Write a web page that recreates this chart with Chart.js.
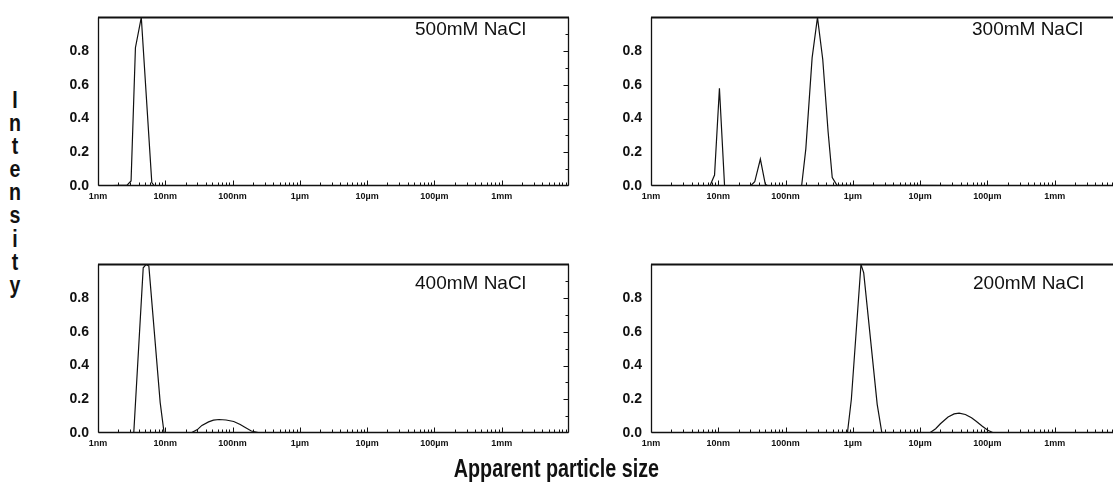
<!DOCTYPE html>
<html><head><meta charset="utf-8">
<script src="https://cdn.jsdelivr.net/npm/chart.js@4.4.1/dist/chart.umd.min.js"></script>
<style>
html,body{margin:0;padding:0;background:#fff;width:1113px;height:486px;overflow:hidden;position:relative}
canvas{position:absolute}
.lbl{position:absolute;font-family:"Liberation Sans",Arial,sans-serif;font-size:19px;color:#111;white-space:nowrap;line-height:1}
.ylab{position:absolute;left:2px;top:89px;width:26px;text-align:center;font-family:"Liberation Sans",Arial,sans-serif;font-weight:bold;font-size:23px;line-height:23.1px;color:#111;transform:scaleX(0.85)}
.xlab{position:absolute;left:0;width:1113px;top:456px;text-align:center;font-family:"Liberation Sans",Arial,sans-serif;font-weight:bold;font-size:25px;line-height:1;color:#111;transform:scaleX(0.79);transform-origin:556px 0}
</style></head><body>
<canvas id="c500" width="560" height="215" style="left:40px;top:0px"></canvas>
<canvas id="c300" width="530" height="215" style="left:600px;top:0px"></canvas>
<canvas id="c400" width="560" height="215" style="left:40px;top:247px"></canvas>
<canvas id="c200" width="530" height="215" style="left:600px;top:247px"></canvas>
<div class="lbl" style="left:415px;top:19px">500mM NaCl</div>
<div class="lbl" style="left:972px;top:19px">300mM NaCl</div>
<div class="lbl" style="left:415px;top:273px">400mM NaCl</div>
<div class="lbl" style="left:973px;top:273px">200mM NaCl</div>
<div class="ylab">I<br>n<br>t<br>e<br>n<br>s<br>i<br>t<br>y</div>
<div class="xlab">Apparent particle size</div>
<script>
// sizes in nm
const xTickValues = [1, 10, 100, 1000, 10000, 100000, 1000000];
const xTickLabels = ["1nm", "10nm", "100nm", "1\u00b5m", "10\u00b5m", "100\u00b5m", "1mm"];
const yTickValues = [0, 0.2, 0.4, 0.6, 0.8];

const size500 = [1, 2.7, 3.1, 3.6, 4.4, 6.3, 6.9, 1e7];
const int500  = [0, 0.005, 0.03, 0.82, 1.0, 0.02, 0, 0];

const size300 = [1, 7.5, 8.8, 10.4, 12.4, 30, 34.8, 42.2, 50, 55, 173, 200, 248, 298, 357, 429, 494, 578, 1e7];
const int300  = [0, 0, 0.065, 0.58, 0, 0, 0.025, 0.16, 0.01, 0, 0, 0.22, 0.76, 1.0, 0.75, 0.32, 0.05, 0.005, 0];

const size400 = [1, 3.4, 4.7, 5.2, 5.7, 8.4, 9.6, 24, 30, 35, 44, 52, 63, 80, 104, 130, 150, 190, 260, 1e7];
const int400  = [0, 0, 0.98, 1.0, 0.99, 0.18, 0, 0, 0.02, 0.045, 0.066, 0.076, 0.08, 0.077, 0.068, 0.05, 0.036, 0.012, 0, 0];

const size200 = [1, 830, 950, 1320, 1450, 2300, 2700, 13800, 17000, 20000, 26000, 32000, 38000, 47000, 58000, 68000, 84000, 100000, 124000, 1e7];
const int200  = [0, 0, 0.2, 1.0, 0.95, 0.17, 0, 0, 0.025, 0.055, 0.095, 0.113, 0.118, 0.11, 0.09, 0.07, 0.04, 0.018, 0, 0];

const FONT = '"Liberation Sans",Arial,sans-serif';

const framePlugin = {
  id: 'frame',
  afterDatasetsDraw(chart) {
    const {ctx, chartArea: a, scales: {x, y}} = chart;
    ctx.save();
    ctx.strokeStyle = '#111';
    const ln = (x1, y1, x2, y2) => { ctx.beginPath(); ctx.moveTo(x1, y1); ctx.lineTo(x2, y2); ctx.stroke(); };
    const L = Math.round(a.left) + 0.5, R = Math.round(a.right) - 0.5;
    const T = Math.round(a.top) + 0.5, B = Math.round(a.bottom) - 0.5;
    ctx.lineWidth = 2; ln(L - 0.5, T, R + 0.5, T);
    ctx.lineWidth = 1.3; ln(L, T, L, B); ln(R, T, R, B); ln(L, B, R, B);
    ctx.lineWidth = 1;
    for (let d = 1; d < 1e7; d *= 10) {
      for (let m = 1; m <= 9; m++) {
        const v = d * m;
        const px = Math.round(x.getPixelForValue(v)) + 0.5;
        if (px < a.left + 1) continue;
        ln(px, B, px, B - (m === 1 ? 5 : 3));
      }
    }
    for (let k = 1; k <= 9; k++) {
      const py = Math.round(y.getPixelForValue(k / 10)) + 0.5;
      ln(R, py, R - (k % 2 === 0 ? 5 : 3), py);
    }
    ctx.restore();
  }
};

function makeChart(id, sizes, vals, yAxisWidth, padRight) {
  const pts = sizes.map((s, i) => ({x: s, y: vals[i]}));
  return new Chart(document.getElementById(id), {
    type: 'line',
    data: { datasets: [{ data: pts, borderColor: '#111', borderWidth: 1.2, pointRadius: 0, tension: 0, fill: false }] },
    options: {
      responsive: false, animation: false,
      layout: { padding: { top: 16, right: padRight, left: 0, bottom: 0 } },
      plugins: { legend: { display: false }, tooltip: { enabled: false } },
      scales: {
        x: {
          type: 'logarithmic', min: 1, max: 1e7,
          grid: { display: false, drawTicks: false, tickLength: 0 }, border: { display: false },
          afterBuildTicks: s => { s.ticks = xTickValues.map(v => ({value: v})); },
          afterFit: s => { s.height = 29; },
          ticks: { autoSkip: false, maxRotation: 0, padding: 5, color: '#111',
            font: { family: FONT, size: 9, weight: 'bold' },
            callback: (v, i) => xTickLabels[i] }
        },
        y: {
          min: 0, max: 1.0,
          grid: { display: false, drawTicks: false, tickLength: 0 }, border: { display: false },
          afterBuildTicks: s => { s.ticks = yTickValues.map(v => ({value: v})); },
          afterFit: s => { s.width = yAxisWidth; },
          ticks: { padding: 9, color: '#111', font: { family: FONT, size: 14, weight: 'bold' },
            callback: v => Number(v).toFixed(1) }
        }
      }
    },
    plugins: [framePlugin]
  });
}

makeChart('c500', size500, int500, 58, 31);
makeChart('c300', size300, int300, 51, 8);
makeChart('c400', size400, int400, 58, 31);
makeChart('c200', size200, int200, 51, 8);
</script>
</body></html>
